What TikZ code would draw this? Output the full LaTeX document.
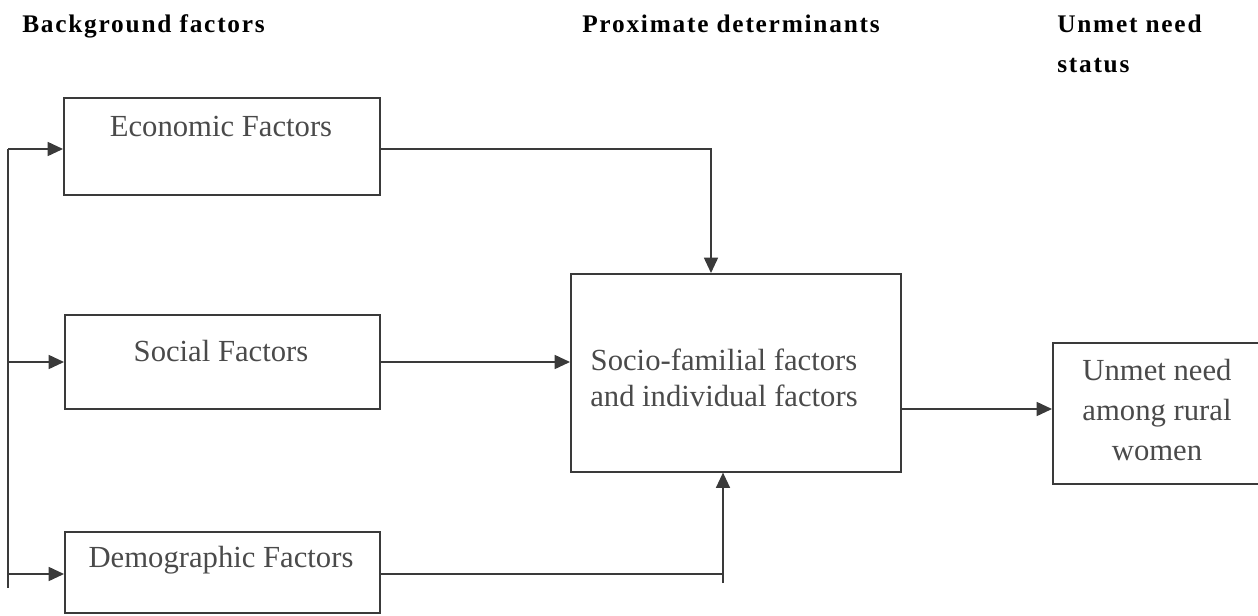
\documentclass[tikz,border=0pt]{standalone}
\usepackage{fontspec}
\setmainfont{Liberation Serif}
\newfontfamily\headfont[LetterSpace=7]{Liberation Serif}
\usetikzlibrary{arrows.meta}
\definecolor{ink}{HTML}{3A3A3A}
\definecolor{txt}{HTML}{4A4A4A}
\begin{document}
\begin{tikzpicture}[x=0.75pt,y=-0.75pt,
  box/.style={draw=ink, line width=1.2pt, inner sep=0pt},
  body/.style={text=txt, font=\fontsize{23}{27}\selectfont, inner sep=0pt},
  head/.style={font=\headfont\bfseries\fontsize{19}{30}\selectfont, inner sep=0pt, anchor=base west},
  wire/.style={draw=ink, line width=1.2pt},
  arr/.style={draw=ink, line width=1.2pt, -{Triangle[length=11.5pt,width=10.5pt]}}]
\clip (0,0) rectangle (1258,615);
% headers
\node[head] (h1) at (22,32) {Background factors};
\node[head] (h2) at (582,32) {Proximate determinants};
\node[head, align=left] (h3) at (1057,72) {Unmet need\\status};
% boxes
\node[box, anchor=north west, minimum width=237pt, minimum height=72.75pt] (econ) at (63,97) {};
\node[body, anchor=base] (econT) at (221,136) {Economic Factors};
\node[box, anchor=north west, minimum width=236.25pt, minimum height=70.5pt] (soc) at (64,314) {};
\node[body, anchor=base] (socT) at (221,361) {Social Factors};
\node[box, anchor=north west, minimum width=236.25pt, minimum height=60.75pt] (dem) at (64,531) {};
\node[body, anchor=base] (demT) at (221,567) {Demographic Factors};
\node[box, anchor=north west, minimum width=247.5pt, minimum height=148.5pt] (ctr) at (570,273) {};
\node[body, anchor=base, align=center] (ctrT) at (724,406) {Socio-familial factors\\and individual factors};
\node[box, anchor=north west, minimum width=158.25pt, minimum height=105.75pt] (unm) at (1052,342) {};
\node[body, anchor=base, align=center, font=\fontsize{23}{30}\selectfont] (unmT) at (1157,460) {Unmet need\\among rural\\women};
% connectors
\coordinate (l1) at (8,149);
\coordinate (l2) at (8,362);
\coordinate (l3) at (8,574);
\coordinate (lb) at (8,588);
\draw[wire] (l1) -- (lb);
\draw[arr] (l1) -- (l1 -| econ.west);
\draw[arr] (l2) -- (l2 -| soc.west);
\draw[arr] (l3) -- (l3 -| dem.west);
\coordinate (ek) at (711,149);
\draw[arr] (l1 -| econ.east) -- (ek) -- (ek |- ctr.north);
\draw[arr] (l2 -| soc.east) -- (l2 -| ctr.west);
\coordinate (dk) at (723,574);
\coordinate (dkb) at (723,583);
\draw[wire] (l3 -| dem.east) -- (dk);
\draw[arr] (dkb) -- (dkb |- ctr.south);
\coordinate (u1) at (0,409);
\draw[arr] (u1 -| ctr.east) -- (u1 -| unm.west);
\end{tikzpicture}
\end{document}
